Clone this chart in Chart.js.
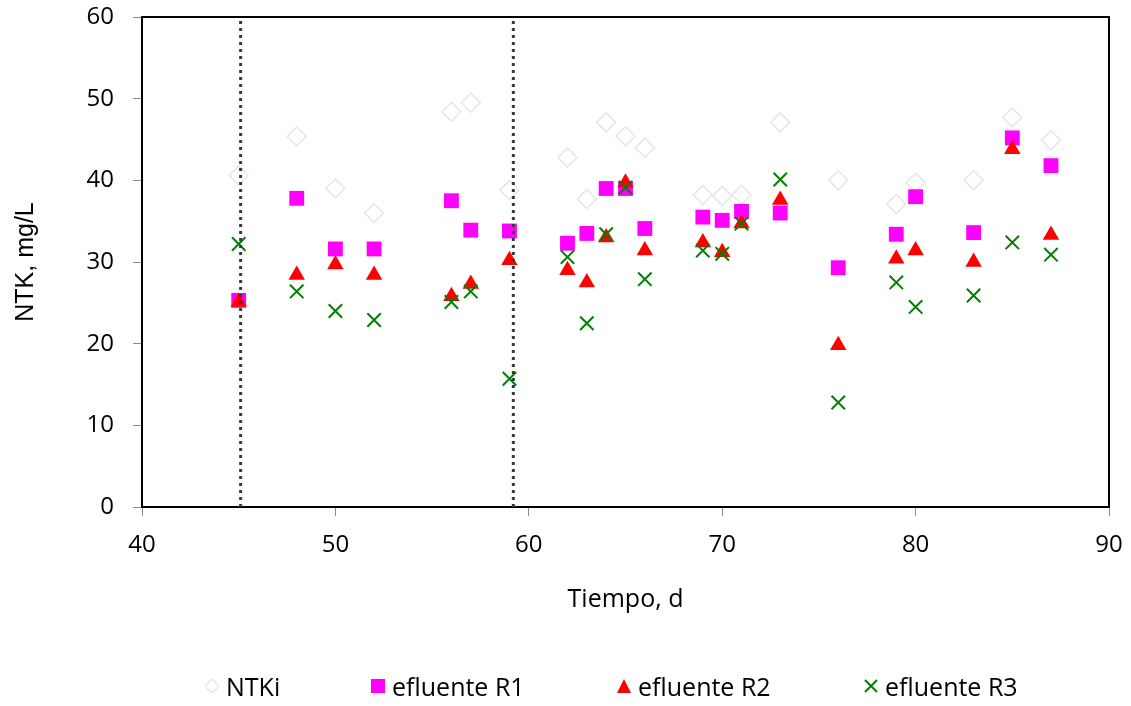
<!DOCTYPE html>
<html>
<head>
<meta charset="utf-8">
<script src="https://cdn.jsdelivr.net/npm/chart.js@4.4.0/dist/chart.umd.min.js"></script>
<style>
  html, body { margin: 0; padding: 0; background: #fff; }
  #wrap { position: relative; width: 1131px; height: 706px; }
  #legend { position: absolute; left: 0; top: 672px; width: 1131px; height: 28px;
            font: 25px 'Open Sans', sans-serif; color: #000; }
  .item { position: absolute; top: 0; height: 28px; display: flex; align-items: center; }
  .item svg { margin-right: 7px; }
</style>
</head>
<body>
<div id="wrap">
  <canvas id="ntkChart" width="1131" height="706"></canvas>
  <div id="legend"></div>
</div>
<script>
// sampling days
const days = [45, 48, 50, 52, 56, 57, 59, 62, 63, 64, 65, 66, 69, 70, 71, 73, 76, 79, 80, 83, 85, 87];

// NTK, mg/L
const ntki = [40.6, 45.4, 39.0, 36.0, 48.4, 49.5, 38.8, 42.8, 37.7, 47.1, 45.4, 44.0, 38.2, 38.1, 38.2, 47.1, 40.0, 37.1, 39.7, 40.0, 47.7, 44.9];
const efluenteR1 = [25.3, 37.8, 31.6, 31.6, 37.5, 33.9, 33.8, 32.3, 33.5, 39.0, 39.0, 34.1, 35.5, 35.1, 36.2, 36.0, 29.3, 33.4, 38.0, 33.6, 45.2, 41.8];
const efluenteR2 = [25.1, 28.4, 29.7, 28.4, 25.8, 27.3, 30.2, 29.0, 27.5, 33.0, 39.7, 31.4, 32.4, 31.2, 34.7, 37.6, 19.8, 30.4, 31.4, 30.0, 43.8, 33.3];
const efluenteR3 = [32.2, 26.4, 24.0, 22.9, 25.1, 26.4, 15.7, 30.6, 22.5, 33.4, 39.1, 27.9, 31.4, 31.0, 34.7, 40.1, 12.8, 27.5, 24.5, 25.9, 32.4, 30.9];

// phase boundaries (dotted vertical lines)
const phaseDays = [45.1, 59.2];
const yRange = [0, 60];

const seriesNames = ['NTKi', 'efluente R1', 'efluente R2', 'efluente R3'];

const toPoints = vals => days.map((d, i) => ({ x: d, y: vals[i] }));

const tickFont = { family: 'Open Sans', size: 24 };

// top + right edges of the plot frame
const framePlugin = {
  id: 'frame',
  beforeDatasetsDraw(chart) {
    const { ctx, chartArea: a } = chart;
    ctx.save();
    ctx.strokeStyle = '#000';
    ctx.lineWidth = 2;
    ctx.beginPath();
    ctx.moveTo(a.left, a.top);
    ctx.lineTo(a.right, a.top);
    ctx.lineTo(a.right, a.bottom);
    ctx.stroke();
    ctx.restore();
  }
};

const datasets = [
  {
    label: seriesNames[0], data: toPoints(ntki), order: 5,
    pointStyle: 'rectRot', pointRadius: 9.5,
    pointBackgroundColor: '#fff', pointBorderColor: '#e6e6e6', pointBorderWidth: 1.5
  },
  {
    label: seriesNames[1], data: toPoints(efluenteR1), order: 4,
    pointStyle: 'rect', pointRadius: 10.5,
    pointBackgroundColor: '#ff00ff', pointBorderColor: '#ff00ff', pointBorderWidth: 0
  },
  {
    label: seriesNames[2], data: toPoints(efluenteR2), order: 3,
    pointStyle: 'triangle', pointRadius: 9.5,
    pointBackgroundColor: '#ff0000', pointBorderColor: '#ff0000', pointBorderWidth: 0
  },
  {
    label: seriesNames[3], data: toPoints(efluenteR3), order: 2,
    pointStyle: 'crossRot', pointRadius: 9.5,
    pointBorderColor: '#008000', pointBorderWidth: 2
  }
];

phaseDays.forEach(d => {
  datasets.push({
    label: 'fase', data: yRange.map(y => ({ x: d, y })), order: 1,
    showLine: true, pointRadius: 0,
    borderColor: '#3a3a3a', borderWidth: 3, borderDash: [3, 4]
  });
});

new Chart(document.getElementById('ntkChart').getContext('2d'), {
  type: 'scatter',
  data: { datasets },
  options: {
    responsive: false,
    animation: false,
    layout: { padding: { top: 17, right: 22, bottom: 89, left: 0 } },
    plugins: { legend: { display: false }, tooltip: { enabled: false } },
    scales: {
      x: {
        min: 40, max: 90,
        ticks: { stepSize: 10, color: '#000', font: tickFont, padding: 15 },
        grid: { drawOnChartArea: false, tickLength: 9, color: '#8c8c8c' },
        border: { color: '#000', width: 2 },
        title: { display: true, text: 'Tiempo, d', color: '#000',
                 font: { family: 'Open Sans', size: 25 }, padding: { top: 0, bottom: 2 } },
        afterFit: s => { s.height = 110; s.paddingLeft = 0; s.paddingRight = 0; }
      },
      y: {
        min: 0, max: 60,
        ticks: { stepSize: 10, color: '#000', font: tickFont, padding: 19 },
        grid: { drawOnChartArea: false, tickLength: 9, color: '#8c8c8c' },
        border: { color: '#000', width: 2 },
        title: { display: true, text: 'NTK, mg/L', color: '#000',
                 font: { family: 'Liberation Sans', size: 25 }, padding: { top: 11, bottom: 0 } },
        afterFit: s => { s.width = 142; s.paddingTop = 0; s.paddingBottom = 0; }
      }
    }
  },
  plugins: [framePlugin]
});

// legend (HTML, laid out like the original)
const legendMarks = [
  '<polygon points="7,0 14,7 7,14 0,7" fill="#fff" stroke="#e6e6e6" stroke-width="1.5"/>',
  '<rect x="0" y="0" width="14" height="14" fill="#ff00ff"/>',
  '<polygon points="7,0 14,14 0,14" fill="#ff0000"/>',
  '<path d="M1,1 L13,13 M13,1 L1,13" stroke="#008000" stroke-width="2"/>'
];
const legendLeft = [205, 371, 617, 864];
const legend = document.getElementById('legend');
seriesNames.forEach((name, i) => {
  const item = document.createElement('div');
  item.className = 'item';
  item.style.left = legendLeft[i] + 'px';
  item.innerHTML = '<svg width="14" height="14" viewBox="0 0 14 14">' + legendMarks[i] + '</svg><span>' + name + '</span>';
  legend.appendChild(item);
});
</script>
</body>
</html>
